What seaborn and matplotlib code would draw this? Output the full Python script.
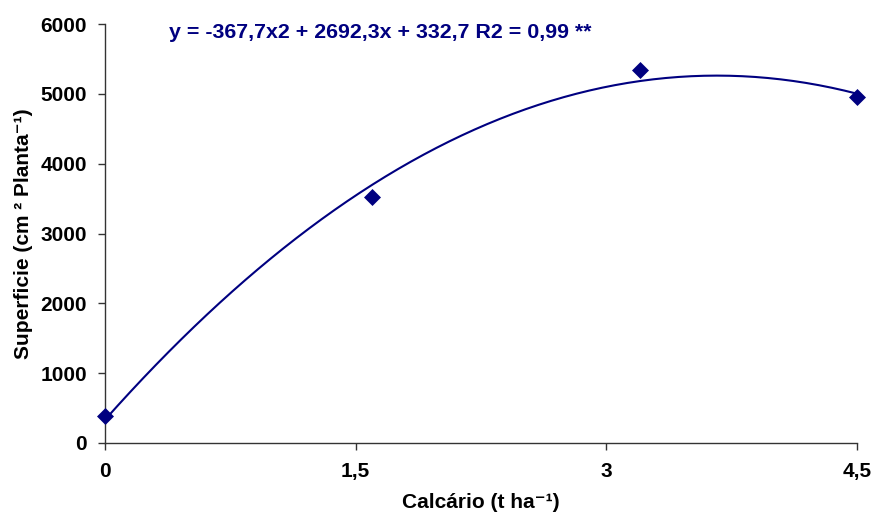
import numpy as np
import pandas as pd
import matplotlib
matplotlib.use("Agg")
import matplotlib.pyplot as plt
import seaborn as sns

# data
calcario = [0.0, 1.6, 3.2, 4.5]
superficie = [385, 3525, 5340, 4955]
# trendline coefficients printed on the chart (a, b, c)
coef = [-367.7, 2692.3, 332.7]
equation = "y = -367,7x2 + 2692,3x + 332,7 R2 = 0,99 **"
xticks = [0, 1.5, 3, 4.5]
xticklabels = ["0", "1,5", "3", "4,5"]
yticks = [0, 1000, 2000, 3000, 4000, 5000, 6000]

sns.set_theme(style="white")
plt.rcParams["font.family"] = ["Liberation Sans", "DejaVu Sans"]
plt.rcParams["text.color"] = "black"
plt.rcParams["axes.labelcolor"] = "black"

navy = "#000080"
W, H = 880, 514
fig = plt.figure(figsize=(8.8, 5.14), dpi=100)
ax = fig.add_axes([105 / W, (H - 443) / H, (857 - 105) / W, (443 - 24) / H])

xs = np.linspace(0, 4.5, 60)
fit = pd.DataFrame({"x": xs, "y": np.polyval(coef, xs)})
sns.lineplot(data=fit, x="x", y="y", ax=ax, color=navy, lw=1.5)
pts = pd.DataFrame({"x": calcario, "y": superficie})
sns.scatterplot(data=pts, x="x", y="y", ax=ax, color=navy, marker="D", s=75,
                edgecolor=navy, linewidth=0, zorder=5, clip_on=False)

ax.set_xlim(0, 4.5)
ax.set_ylim(0, 6000)
ax.set_xticks(xticks)
ax.set_xticklabels(xticklabels)
ax.set_yticks(yticks)
for lab in ax.get_xticklabels() + ax.get_yticklabels():
    lab.set_fontweight("bold")
    lab.set_fontsize(15)
ax.tick_params(axis="both", direction="out", length=5, width=1, colors="#333333",
               labelcolor="black", bottom=True, left=True)
ax.tick_params(axis="x", pad=9)
ax.tick_params(axis="y", pad=8)
for s in ["top", "right"]:
    ax.spines[s].set_visible(False)
for s in ["left", "bottom"]:
    ax.spines[s].set_color("#333333")
    ax.spines[s].set_linewidth(1)

ax.set_xlabel("Calcário (t ha\u207b\u00b9)", fontsize=15, fontweight="bold", labelpad=8)
ax.set_ylabel("Superficie (cm \u00b2 Planta\u207b\u00b9)", fontsize=15, fontweight="bold", labelpad=5)

fig.text(169 / W, 1 - 33 / H, equation, fontsize=15.4, fontweight="bold",
         color=navy, va="center", ha="left")

fig.savefig("out.png", dpi=100)
